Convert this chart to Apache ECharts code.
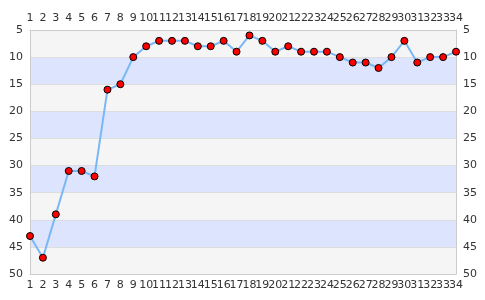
<!DOCTYPE html>
<html><head><meta charset="utf-8">
<script src="https://cdn.jsdelivr.net/npm/echarts@6/dist/echarts.min.js"></script>
<style>html,body{margin:0;padding:0;background:#fff}#c{width:485px;height:300px}</style>
</head><body><div id="c"></div>
<script>
var categories = ['1','2','3','4','5','6','7','8','9','10','11','12','13','14','15','16','17','18','19','20','21','22','23','24','25','26','27','28','29','30','31','32','33','34'];
var values = [43,47,39,31,31,32,16,15,10,8,7,7,7,8,8,7,9,6,7,9,8,9,9,9,10,11,11,12,10,7,11,10,10,9];
var yTicks = [5,10,15,20,25,30,35,40,45,50];

var chart = echarts.init(document.getElementById('c'), null, {renderer:'canvas'});
var lbl = {color:'#333', fontSize:11, fontFamily:'DejaVu Sans'};
var xBase = {type:'category', data:categories, boundaryGap:false,
  axisLine:{lineStyle:{color:'#ccc'}}, axisTick:{show:false},
  axisLabel:Object.assign({interval:0, margin:6}, lbl), splitLine:{show:false}};
var yBase = {type:'value', inverse:true, min:yTicks[0], max:yTicks[yTicks.length-1], interval:5,
  axisLine:{show:true, lineStyle:{color:'#ccc'}}, axisTick:{show:false},
  axisLabel:Object.assign({margin:7}, lbl)};
chart.setOption({
  animation:false,
  grid:{left:30, right:29, top:30, bottom:26, containLabel:false},
  xAxis:[Object.assign({position:'bottom'}, xBase), Object.assign({position:'top'}, xBase)],
  yAxis:[Object.assign({position:'left',
      splitLine:{show:true, lineStyle:{color:'#ddd'}},
      splitArea:{show:true, areaStyle:{color:['#f5f5f5','#dde4fd']}}}, yBase),
    Object.assign({position:'right', splitLine:{show:false}}, yBase)],
  series:[{type:'line', data:values, xAxisIndex:0, yAxisIndex:0,
    symbol:'circle', symbolSize:7,
    lineStyle:{color:'#7ab8f5', width:2},
    itemStyle:{color:'#ff0000', borderColor:'#000', borderWidth:1}}]
});
</script></body></html>
